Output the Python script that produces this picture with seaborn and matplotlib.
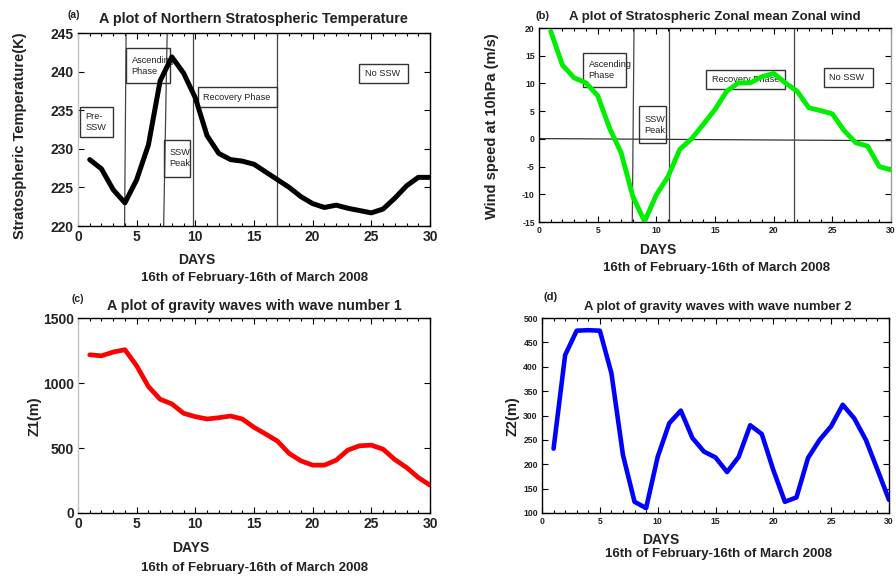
import matplotlib
matplotlib.use("Agg")
import matplotlib.pyplot as plt
import seaborn as sns
from matplotlib.patches import Rectangle
from matplotlib.ticker import MultipleLocator

# ---- data: 16 Feb - 16 Mar 2008, one value per day ----
days = list(range(1, 31))

temperature = [228.6, 227.4, 224.7, 223.0, 226.0, 230.5, 238.8, 241.9, 239.8, 236.6,
               231.7, 229.4, 228.6, 228.4, 228.0, 227.0, 226.0, 225.0, 223.8, 222.9,
               222.4, 222.7, 222.3, 222.0, 221.7, 222.2, 223.6, 225.2, 226.3, 226.3]

zonal_wind = [19.4, 13.3, 11.0, 10.1, 7.8, 2.0, -2.5, -10.4, -14.9, -10.1,
              -6.8, -1.9, 0.0, 2.6, 5.3, 8.6, 10.1, 10.1, 11.2, 11.8,
              10.1, 8.6, 5.6, 5.1, 4.5, 1.5, -0.7, -1.3, -5.0, -5.6]

wave1 = [1217, 1209, 1238, 1256, 1132, 973, 875, 839, 767, 741,
         723, 733, 746, 723, 659, 607, 553, 458, 401, 368,
         368, 406, 484, 517, 522, 491, 411, 350, 273, 214]

wave2 = [232, 424, 474, 475, 474, 387, 219, 123, 110, 215,
         284, 310, 254, 226, 214, 184, 215, 280, 262, 188,
         123, 132, 213, 250, 278, 322, 294, 250, 189, 127]

# phase labels: (text, x0, x1, y0, y1) in data units
temp_phases = [("Pre-\nSSW", 0.15, 3.0, 231.5, 235.4),
               ("Ascending\nPhase", 4.1, 7.8, 238.5, 243.0),
               ("SSW\nPeak", 7.3, 9.55, 226.4, 231.2),
               ("Recovery Phase", 10.2, 16.95, 235.4, 238.0),
               ("No SSW", 23.95, 28.15, 238.5, 241.0)]
temp_bounds = [(4.1, 3.97), (7.6, 7.3), (9.8, 9.8), (17.0, 17.0)]

wind_phases = [("Ascending\nPhase", 3.75, 7.45, 9.4, 15.5),
               ("SSW\nPeak", 8.5, 10.85, -0.75, 5.9),
               ("Recovery Phase", 14.25, 21.0, 9.0, 12.5),
               ("No SSW", 24.25, 28.45, 9.4, 12.8)]
wind_bounds = [(8.1, 7.95), (11.07, 11.07), (21.7, 21.7)]

sns.set_style("ticks")
plt.rcParams["font.family"] = ["Liberation Sans", "DejaVu Sans"]
plt.rcParams["axes.unicode_minus"] = False

W, H = 896, 579
fig = plt.figure(figsize=(W / 100, H / 100), dpi=100)


def px_axes(l, t, r, b):
    return fig.add_axes([l / W, 1 - b / H, (r - l) / W, (b - t) / H])


def ftext(x, y, s, **kw):
    fig.text(x / W, 1 - y / H, s, ha=kw.pop("ha", "center"), va=kw.pop("va", "center"), **kw)


def style_axes(ax, ylim, ystep, tick_size, left_col="black", right_col="black"):
    ax.set_xlim(0, 30)
    ax.set_ylim(*ylim)
    ax.xaxis.set_major_locator(MultipleLocator(5))
    ax.xaxis.set_minor_locator(MultipleLocator(1))
    ax.yaxis.set_major_locator(MultipleLocator(ystep))
    ax.tick_params(which="both", direction="in", top=True, right=True,
                   labelsize=tick_size, colors="black", width=0.8)
    ax.tick_params(which="major", length=4, pad=3)
    ax.tick_params(which="minor", length=2.5)
    for lab in ax.get_xticklabels() + ax.get_yticklabels():
        lab.set_fontweight("bold")
        lab.set_color("#222222")
    for s in ax.spines.values():
        s.set_color("black")
        s.set_linewidth(1.0)
    ax.spines["left"].set_color(left_col)
    ax.spines["right"].set_color(right_col)
    ax.set_xlabel("")
    ax.set_ylabel("")


def phase_boxes(ax, phases, bounds, ylim):
    for xt, xb in bounds:
        ax.plot([xt, xb], [ylim[1], ylim[0]], color="#444444", lw=0.9, zorder=2)
    for label, x0, x1, y0, y1 in phases:
        ax.add_patch(Rectangle((x0, y0), x1 - x0, y1 - y0, fill=False,
                               edgecolor="#333333", lw=1.0, zorder=2))
        ax.annotate(label, xy=(x0, (y0 + y1) / 2), xytext=(4, 0),
                    textcoords="offset points", ha="left", va="center",
                    fontsize=6.6, color="#222222", zorder=2, linespacing=1.3)


# (a) stratospheric temperature
ax_a = px_axes(78, 33, 430, 226)
sns.lineplot(x=days, y=temperature, ax=ax_a, color="black", lw=3.6, zorder=3)
ylim_a = (220, 245)
style_axes(ax_a, ylim_a, 5, 10, left_col="#c4c4c4")
phase_boxes(ax_a, temp_phases, temp_bounds, ylim_a)

# (b) zonal mean zonal wind
ax_b = px_axes(539, 28, 891, 222)
ylim_b = (-15, 20)
ax_b.plot([0, 30], [0.05, -0.33], color="#333333", lw=0.9, zorder=2)
sns.lineplot(x=days, y=zonal_wind, ax=ax_b, color="#00ee00", lw=3.5, zorder=3)
style_axes(ax_b, ylim_b, 5, 6.2, right_col="#9a9a9a")
phase_boxes(ax_b, wind_phases, wind_bounds, ylim_b)

# (c) wave number 1
ax_c = px_axes(78, 318, 430, 513)
sns.lineplot(x=days, y=wave1, ax=ax_c, color="#ff0000", lw=3.4, zorder=3)
style_axes(ax_c, (0, 1500), 500, 10, left_col="#c4c4c4")

# (d) wave number 2
ax_d = px_axes(542, 318, 889, 513)
sns.lineplot(x=days, y=wave2, ax=ax_d, color="#0000ff", lw=3.3, zorder=3)
style_axes(ax_d, (100, 500), 50, 6.2)

date_txt = "16th of February-16th of March 2008"
bold = dict(fontweight="bold", color="#222222")

# titles and panel letters
ftext(253, 19, "A plot of Northern Stratospheric Temperature", fontsize=10.4, **bold)
ftext(715, 17, "A plot of Stratospheric Zonal mean Zonal wind", fontsize=9.5, **bold)
ftext(254, 306, "A plot of gravity waves with wave number 1", fontsize=10.3, **bold)
ftext(718, 307, "A plot of gravity waves with wave number 2", fontsize=9.4, **bold)
ftext(74, 15, "(a)", fontsize=7.5, **bold)
ftext(543, 16, "(b)", fontsize=8, **bold)
ftext(78, 299, "(c)", fontsize=7.5, **bold)
ftext(551, 297, "(d)", fontsize=8, **bold)

# axis labels
ftext(20, 136, "Stratospheric Temperature(K)", fontsize=10.5, rotation=90, **bold)
ftext(492, 126, "Wind speed at 10hPa (m/s)", fontsize=10.5, rotation=90, **bold)
ftext(35, 416, "Z1(m)", fontsize=10.5, rotation=90, **bold)
ftext(513, 416, "Z2(m)", fontsize=10.5, rotation=90, **bold)

ftext(197, 260, "DAYS", fontsize=10, **bold)
ftext(658, 250, "DAYS", fontsize=10, **bold)
ftext(191, 548, "DAYS", fontsize=10, **bold)
ftext(661, 540, "DAYS", fontsize=10, **bold)
ftext(254, 278, date_txt, fontsize=9.5, **bold)
ftext(716, 268, date_txt, fontsize=9.5, **bold)
ftext(254, 568, date_txt, fontsize=9.5, **bold)
ftext(718, 554, date_txt, fontsize=9.5, **bold)

fig.savefig("out.png", dpi=100, facecolor="white")
